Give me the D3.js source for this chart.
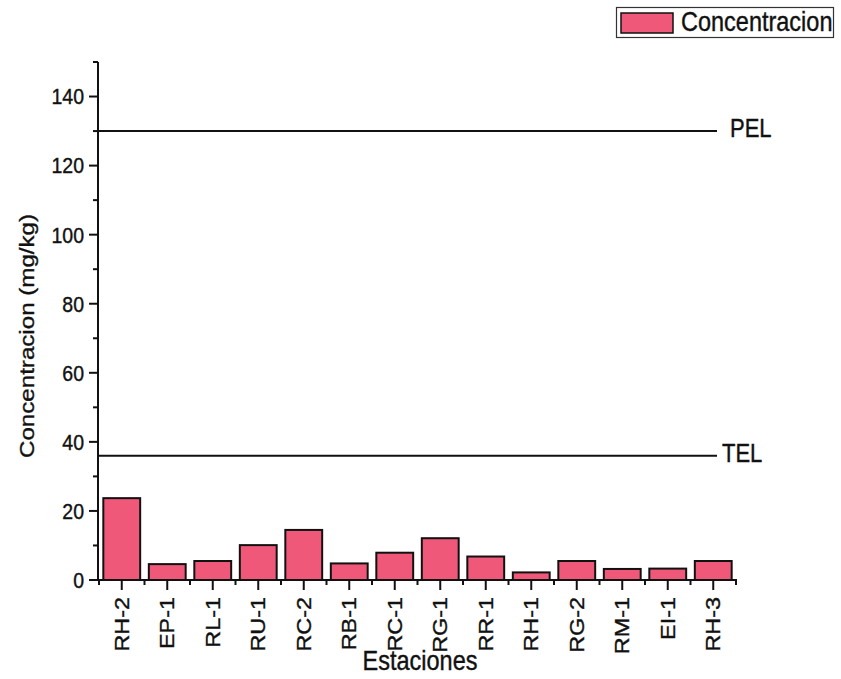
<!DOCTYPE html>
<html>
<head>
<meta charset="utf-8">
<script src="https://cdn.jsdelivr.net/npm/d3@7"></script>
<style>
  html, body { margin: 0; padding: 0; background: #fff; }
  svg { display: block; }
  text { font-family: "Liberation Sans", Arial, sans-serif; fill: #111; stroke: #111; stroke-width: 0.35px; }
</style>
</head>
<body>
<svg id="chart" width="841" height="679"></svg>
<script>
// Stations and measured concentration (mg/kg)
const stations = ["RH-2", "EP-1", "RL-1", "RU-1", "RC-2", "RB-1", "RC-1", "RG-1", "RR-1", "RH-1", "RG-2", "RM-1", "EI-1", "RH-3"];
const concentration = [23.7, 4.6, 5.5, 10.1, 14.5, 4.8, 7.9, 12.1, 6.8, 2.2, 5.5, 3.2, 3.3, 5.5];

// Sediment quality guideline levels
const guidelineNames = ["PEL", "TEL"];
const guidelineValues = [130, 36];

const yTicks = [0, 20, 40, 60, 80, 100, 120, 140];
const yMinorTicks = [10, 30, 50, 70, 90, 110, 130, 150];

const svg = d3.select("#chart");
const stretch = 1.15;

const x = d3.scaleBand().domain(stations).range([99, 736]);
const y = d3.scaleLinear().domain([0, 150]).range([580, 62]);
const axisX = 98;

const barColor = "#f0587a";
const barFrac = 0.81;

// Bars
svg.append("g").selectAll("rect")
  .data(stations.map((s, i) => ({ s, v: concentration[i] })))
  .join("rect")
  .attr("x", d => x(d.s) + x.bandwidth() * (1 - barFrac) / 2)
  .attr("width", x.bandwidth() * barFrac)
  .attr("y", d => y(d.v))
  .attr("height", d => y(0) - y(d.v))
  .attr("fill", barColor)
  .attr("stroke", "#111")
  .attr("stroke-width", 2);

// Guideline lines
const lineEnd = 717;
svg.append("g").selectAll("line")
  .data(guidelineValues)
  .join("line")
  .attr("x1", axisX).attr("x2", lineEnd)
  .attr("y1", d => y(d)).attr("y2", d => y(d))
  .attr("stroke", "#111").attr("stroke-width", 2);

const labelX = { PEL: 730, TEL: 722 };
guidelineNames.forEach((n, i) => {
  svg.append("text")
    .attr("transform", `translate(${labelX[n]},${y(guidelineValues[i]) + 6}) scale(1,${stretch})`)
    .attr("font-size", 22)
    .text(n);
});

// Y axis
const yAxis = svg.append("g");
yAxis.append("line")
  .attr("x1", axisX).attr("x2", axisX)
  .attr("y1", y(150)).attr("y2", y(0) + 1)
  .attr("stroke", "#111").attr("stroke-width", 2);
yAxis.selectAll(".major").data(yTicks).join("line")
  .attr("class", "major")
  .attr("x1", axisX - 9).attr("x2", axisX)
  .attr("y1", d => y(d)).attr("y2", d => y(d))
  .attr("stroke", "#111").attr("stroke-width", 2);
yAxis.selectAll(".minor").data(yMinorTicks).join("line")
  .attr("class", "minor")
  .attr("x1", axisX - 5).attr("x2", axisX)
  .attr("y1", d => y(d)).attr("y2", d => y(d))
  .attr("stroke", "#111").attr("stroke-width", 2);
yAxis.selectAll("text").data(yTicks).join("text")
  .attr("transform", d => `translate(84,${y(d)}) scale(1,${stretch})`)
  .attr("text-anchor", "end")
  .attr("dy", "0.35em")
  .attr("font-size", 19.5)
  .text(d => d);

// X axis
const xAxis = svg.append("g");
xAxis.append("line")
  .attr("x1", axisX - 1).attr("x2", 737)
  .attr("y1", y(0)).attr("y2", y(0))
  .attr("stroke", "#111").attr("stroke-width", 2);
xAxis.selectAll(".major").data(stations).join("line")
  .attr("class", "major")
  .attr("x1", d => x(d) + x.bandwidth() / 2).attr("x2", d => x(d) + x.bandwidth() / 2)
  .attr("y1", y(0)).attr("y2", y(0) + 10)
  .attr("stroke", "#111").attr("stroke-width", 2);
const bounds = stations.map(s => x(s)).concat([x.range()[1]]);
xAxis.selectAll(".minor").data(bounds).join("line")
  .attr("class", "minor")
  .attr("x1", d => d).attr("x2", d => d)
  .attr("y1", y(0)).attr("y2", y(0) + 5)
  .attr("stroke", "#111").attr("stroke-width", 2);
xAxis.selectAll("text").data(stations).join("text")
  .attr("transform", d => `translate(${x(d) + x.bandwidth() / 2},597) scale(1,1.2) rotate(-90)`)
  .attr("text-anchor", "end")
  .attr("dy", "0.35em")
  .attr("font-size", 19.5)
  .text(d => d);

// Axis titles
svg.append("text")
  .attr("transform", `translate(420,670) scale(1,${stretch})`)
  .attr("text-anchor", "middle")
  .attr("font-size", 23.5)
  .text("Estaciones");

svg.append("text")
  .attr("transform", `translate(34,336) scale(1,${stretch}) rotate(-90)`)
  .attr("text-anchor", "middle")
  .attr("font-size", 21)
  .text("Concentracion (mg/kg)");

// Legend
const lg = svg.append("g");
lg.append("rect")
  .attr("x", 616.5).attr("y", 7.5).attr("width", 217).attr("height", 30)
  .attr("fill", "#fff").attr("stroke", "#333").attr("stroke-width", 1.2);
lg.append("rect")
  .attr("x", 621).attr("y", 13).attr("width", 52).attr("height", 20)
  .attr("fill", barColor).attr("stroke", "#111").attr("stroke-width", 1.5);
lg.append("text")
  .attr("transform", `translate(681,31) scale(1,${stretch})`)
  .attr("font-size", 23.5)
  .text("Concentracion");
</script>
</body>
</html>
